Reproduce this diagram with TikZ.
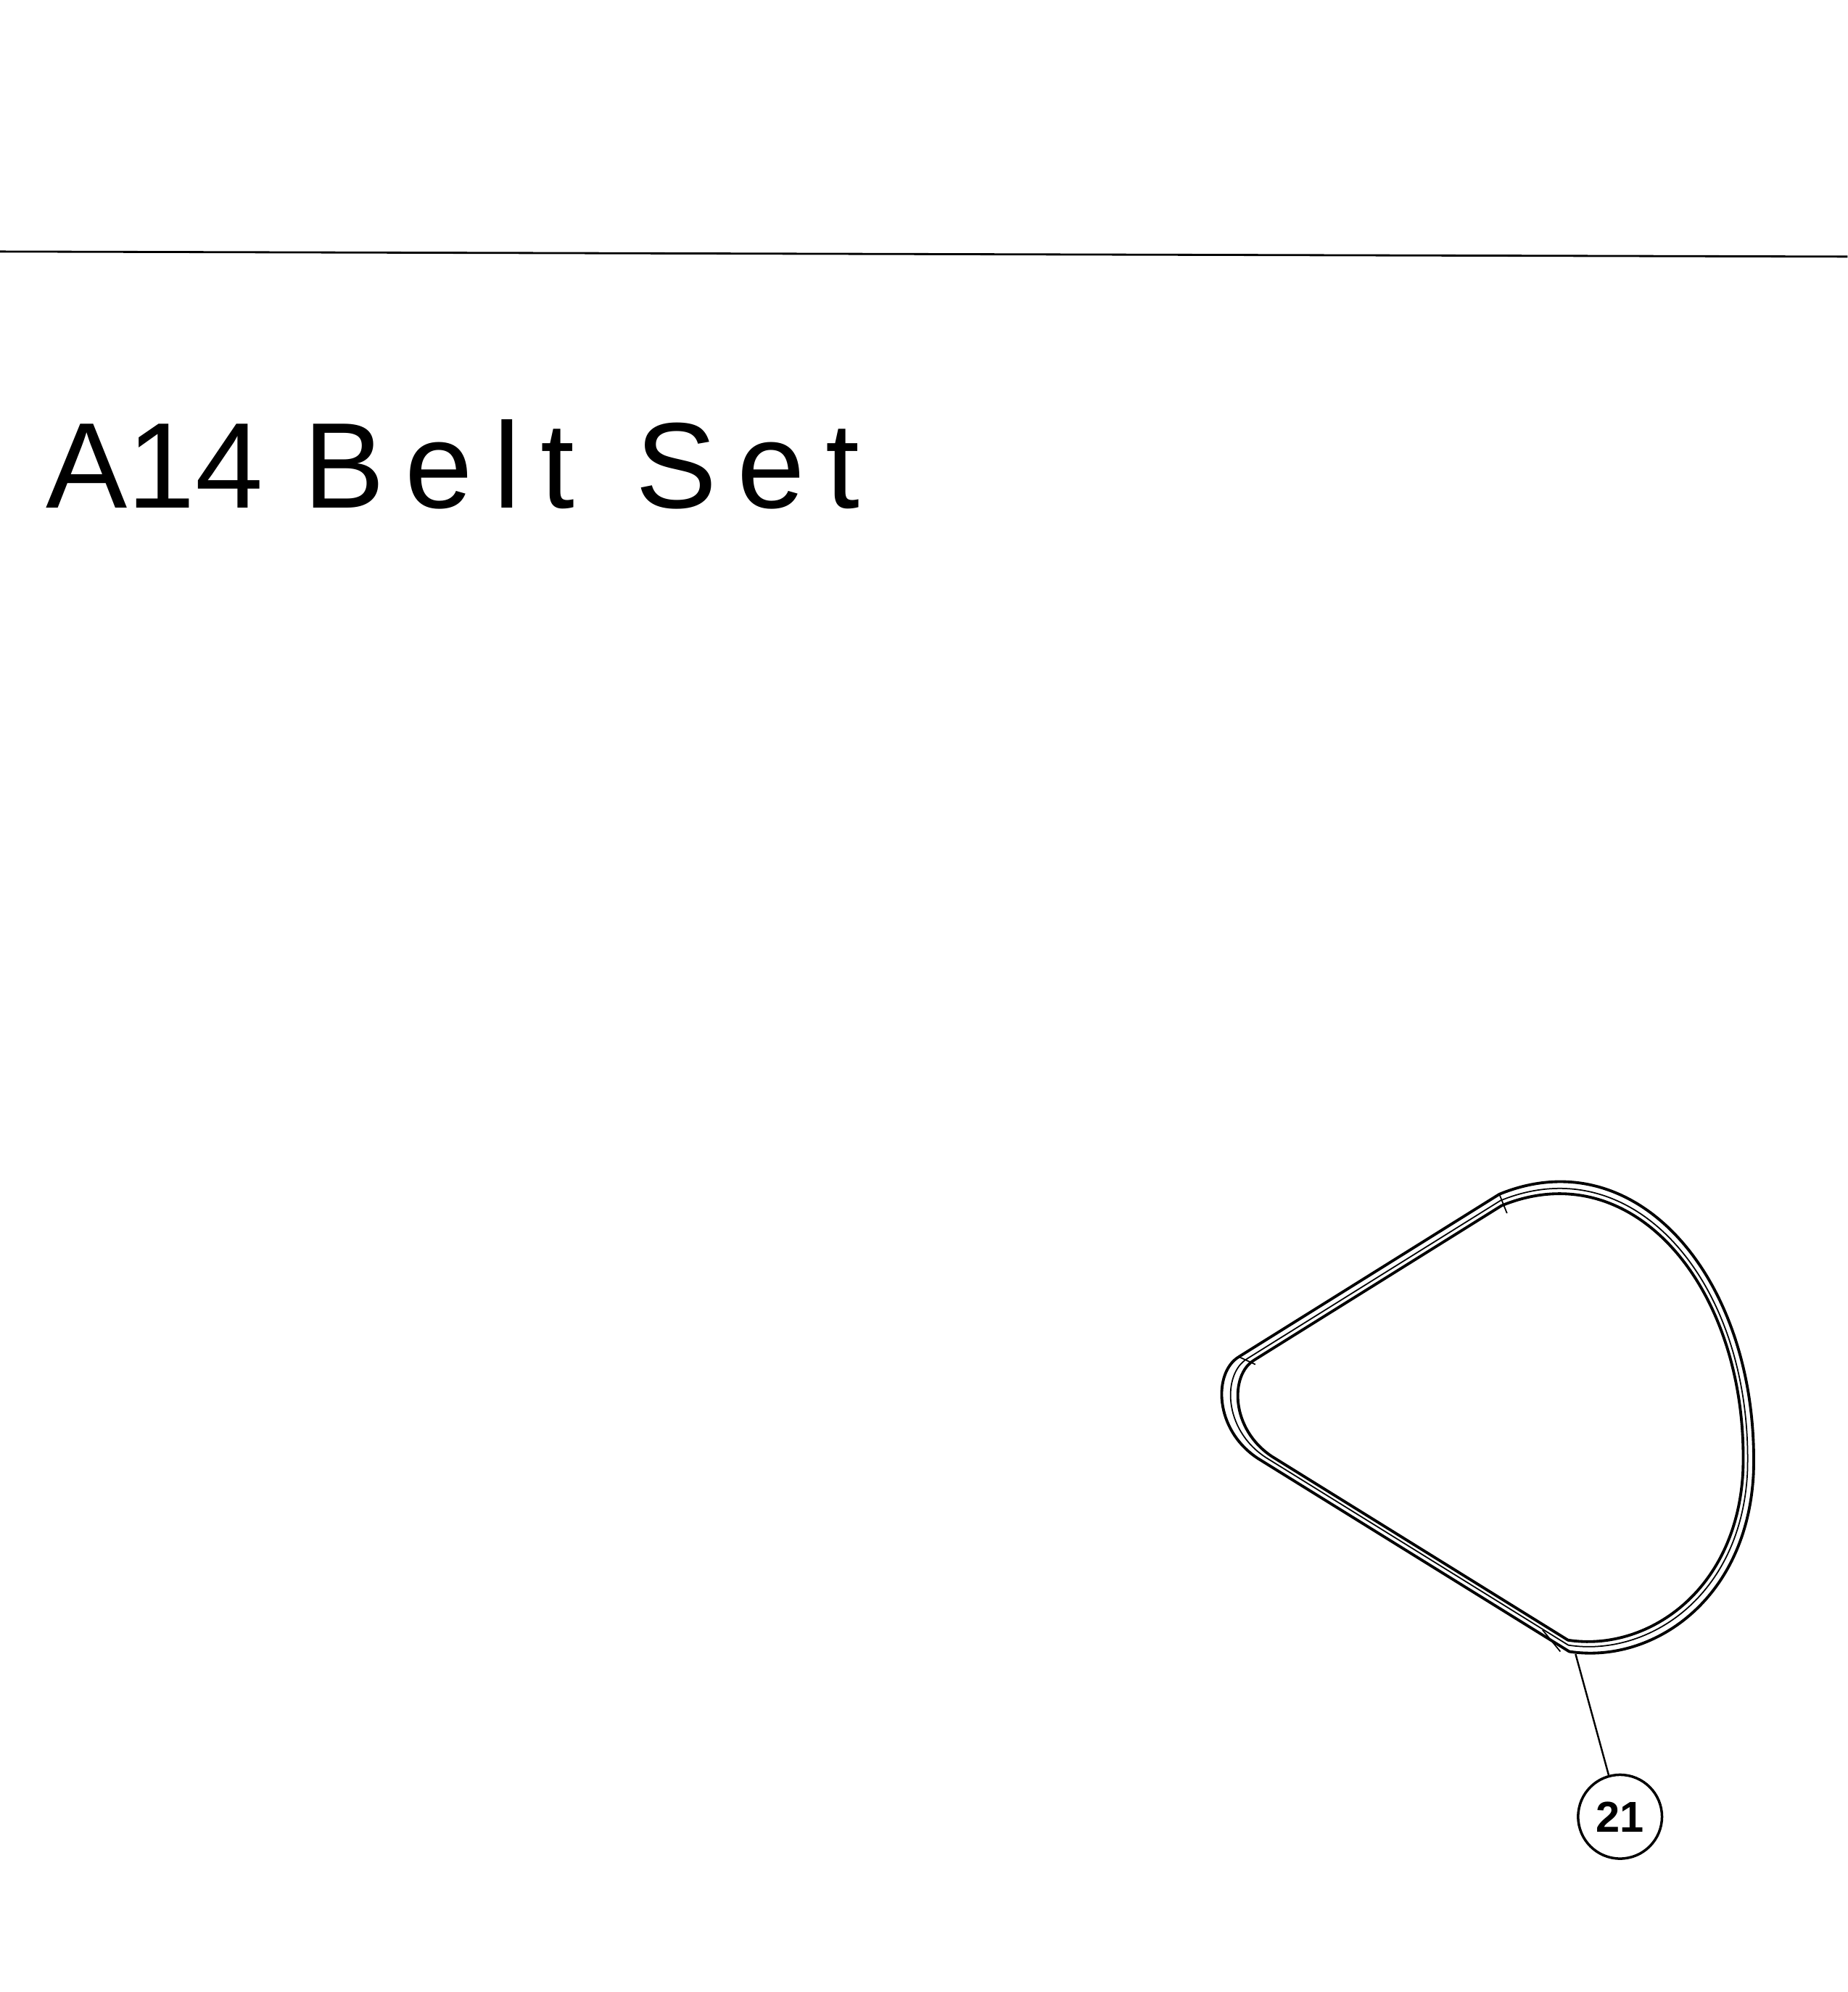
\documentclass[tikz,border=0pt]{standalone}
\usepackage{fontspec}
\setmainfont{Liberation Sans}
\begin{document}
\begin{tikzpicture}[x=1pt,y=-1pt,belt/.style={line width=2.2pt,line join=round}]
\useasboundingbox (0,0) rectangle (1454,1568);
\draw[line width=1.6pt] (0,198) -- (1454,202);
\node[anchor=base west,inner sep=0,font=\fontsize{96}{100}\selectfont] (title) at (36,400) {A14\,\,B\,e\,l\,t\,\,\,S\,e\,t};
\def\beltpath{(975,1068) -- (1180,940) .. controls (1290,895) and (1385,1010) .. (1380,1160) .. controls (1375,1260) and (1300,1310) .. (1235,1300) -- (990,1148) .. controls (955,1125) and (955,1080) .. (975,1068) -- cycle}
\draw[belt] \beltpath;
\begin{scope}[shift={(1210,1120)},scale=0.972,shift={(-1210,-1120)}]
\draw[line width=1pt] \beltpath;
\end{scope}
\begin{scope}[shift={(1215,1120)},scale=0.95,shift={(-1215,-1120)}]
\draw[belt] \beltpath;
\end{scope}
\draw[line width=1pt] (1180,940) -- (1186,955);
\draw[line width=1pt] (1228,1300) -- (1214,1283);
\draw[line width=1pt] (975,1068) -- (988,1074);
\coordinate (tip) at (1240,1302);
\node[circle,draw,line width=2pt,minimum size=66pt,inner sep=0,font=\bfseries\fontsize{34}{36}\selectfont] (c21) at (1275,1430) {21};
\draw[line width=1.4pt] (tip) -- (c21);
\end{tikzpicture}
\end{document}
